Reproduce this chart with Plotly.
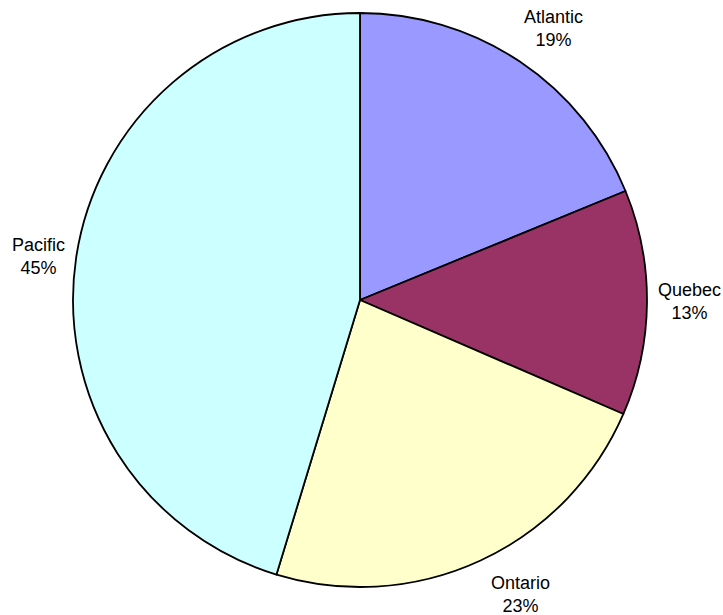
import math
import plotly.graph_objects as go

# Data
regions = ["Atlantic", "Quebec", "Ontario", "Pacific"]
shares = [18.8, 12.7, 23.2, 45.3]
colors = ["#9999FF", "#993366", "#FFFFCC", "#CCFFFF"]

# label nudges (pixels) relative to mid-angle placement
label_dx = [10, 0, 22, 5]
label_dy = [-3, 2, 5, -5]

W, H = 723, 615
ML, MR, MT, MB = 70, 73, 13, 28
pw, ph = W - ML - MR, H - MT - MB
cx, cy = ML + pw / 2, MT + ph / 2
label_dist = 330

fig = go.Figure(go.Pie(
    labels=regions,
    values=shares,
    sort=False,
    direction="clockwise",
    rotation=0,
    marker=dict(colors=colors, line=dict(color="black", width=1.8)),
    textinfo="none",
    hoverinfo="none",
    showlegend=False,
    domain=dict(x=[0, 1], y=[0, 1]),
))

total = sum(shares)
cum = 0
annotations = []
for i, (name, v) in enumerate(zip(regions, shares)):
    mid = (cum + v / 2) / total * 2 * math.pi
    cum += v
    px = cx + label_dist * math.sin(mid)
    py = cy - label_dist * math.cos(mid)
    pct = round(v / total * 100)
    annotations.append(dict(
        x=(px - ML) / pw, y=1 - (py - MT) / ph, xref="paper", yref="paper",
        text=f"{name}<br>{pct}%", showarrow=False,
        xanchor="center", yanchor="middle", align="center",
        xshift=label_dx[i], yshift=label_dy[i],
        font=dict(family="Liberation Sans, Arial, sans-serif", size=18, color="black"),
    ))

fig.update_layout(
    width=W, height=H,
    margin=dict(l=ML, r=MR, t=MT, b=MB),
    paper_bgcolor="white", plot_bgcolor="white",
    annotations=annotations,
)

fig.write_html(
    "out.html",
    config={"displayModeBar": False, "staticPlot": True},
    post_script="document.body.style.margin='0';document.body.style.overflow='hidden';",
)
